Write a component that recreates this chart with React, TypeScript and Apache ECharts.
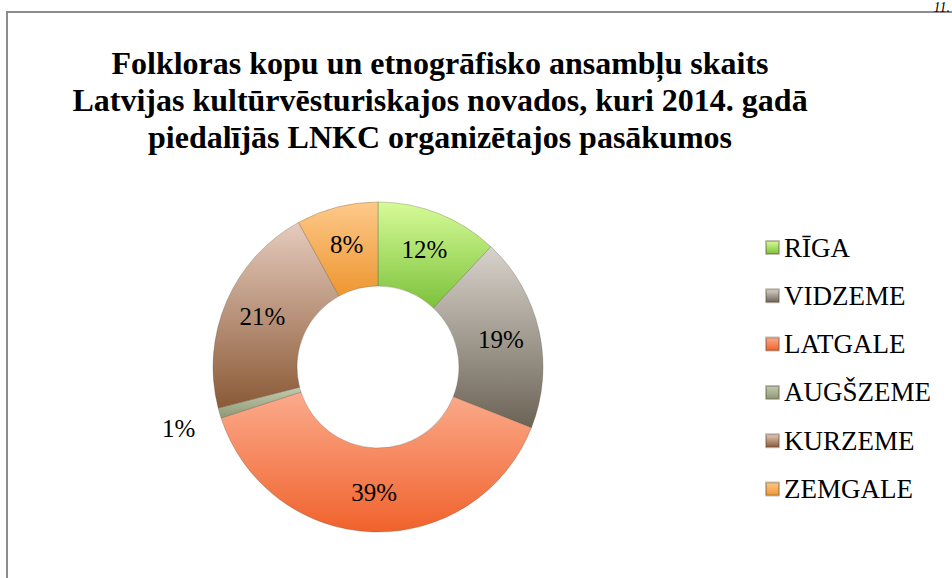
import React, { useEffect, useRef } from "react";
import * as echarts from "echarts";

const titleLines = [
  "Folkloras kopu un etnogrāfisko ansambļu skaits",
  "Latvijas kultūrvēsturiskajos novados, kuri 2014. gadā",
  "piedalījās LNKC organizētajos pasākumos",
];
const regions = ["RĪGA", "VIDZEME", "LATGALE", "AUGŠZEME", "KURZEME", "ZEMGALE"];
const shares = [12, 19, 39, 1, 21, 8];
const lightColors = ["#d6fb98", "#d8d3cc", "#fbab8c", "#c4cbb0", "#e6cbbd", "#fdc98a"];
const darkColors = ["#7dc23b", "#6b6355", "#f0622c", "#8e9874", "#8b5a37", "#ee9630"];
const pageNumber = "11.";

export default function App() {
  const ref = useRef<HTMLDivElement>(null);
  useEffect(() => {
    document.body.style.margin = "0";
    const chart = echarts.init(ref.current!, null, { renderer: "svg" });
    const serif = "Liberation Serif";
    const data = regions.map((name, i) => ({
      name,
      value: shares[i],
      itemStyle: {
        color: new echarts.graphic.LinearGradient(0, 0, 0, 1, [
          { offset: 0, color: lightColors[i] },
          { offset: 1, color: darkColors[i] },
        ]),
      },
      label:
        shares[i] < 3
          ? {
              position: "outside" as const,
              distance: 0,
              formatter: "{low|{d}%}",
              rich: {
                low: {
                  fontFamily: serif,
                  fontSize: 25,
                  color: "#000",
                  padding: [20, 0, 0, 0],
                },
              },
            }
          : undefined,
      labelLine: { show: false, length: 20, length2: 0 },
    }));
    chart.setOption({
      animation: false,
      backgroundColor: "#ffffff",
      title: {
        text: titleLines.join("\n"),
        left: 435,
        textAlign: "center",
        top: 39,
        textStyle: {
          fontFamily: serif,
          fontWeight: "bold",
          fontSize: 32,
          lineHeight: 37,
          color: "#000",
        },
      },
      legend: {
        orient: "vertical",
        left: 760,
        top: 229,
        itemWidth: 13,
        itemHeight: 13,
        itemGap: 21.3,
        icon: "rect",
        textStyle: {
          fontFamily: serif,
          fontSize: 27,
          lineHeight: 24,
          color: "#000",
        },
      },
      graphic: [
        {
          type: "rect",
          shape: { x: 7, y: 12, width: 960, height: 600 },
          style: { fill: "none", stroke: "#8c8c8c", lineWidth: 2 },
          silent: true,
        },
        {
          type: "text",
          right: 2,
          top: 0,
          style: {
            text: pageNumber,
            font: "italic 14px Liberation Serif",
            fill: "#000",
          },
          silent: true,
        },
      ],
      series: [
        {
          type: "pie",
          center: [378, 367],
          radius: [81, 165],
          startAngle: 90,
          clockwise: true,
          avoidLabelOverlap: false,
          itemStyle: { borderColor: "rgba(80,70,50,0.35)", borderWidth: 0.8 },
          label: {
            show: true,
            position: "inside",
            formatter: "{d}%",
            fontFamily: serif,
            fontSize: 25,
            color: "#000",
          },
          labelLine: { show: false },
          data,
        },
      ],
    });
    return () => chart.dispose();
  }, []);
  return <div ref={ref} style={{ width: 952, height: 578 }} />;
}
